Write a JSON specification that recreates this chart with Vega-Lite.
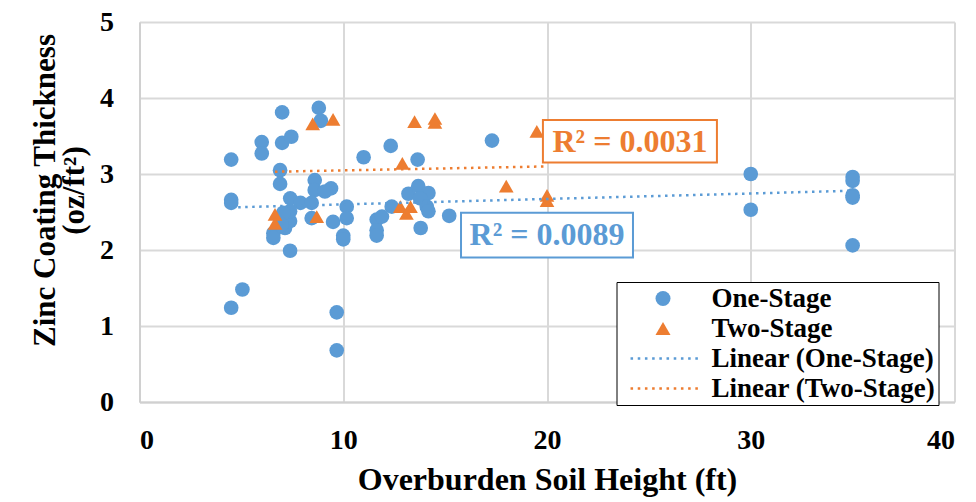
{
  "$schema": "https://vega.github.io/schema/vega-lite/v6.json",
  "width": 815,
  "height": 380,
  "autosize": {"type": "none"},
  "padding": {"left": 139.5, "top": 22, "right": 21.5, "bottom": 100},
  "background": "white",
  "config": {
    "font": "Liberation Serif",
    "view": {"stroke": null},
    "axis": {
      "grid": true,
      "gridColor": "#d9d9d9",
      "gridWidth": 2,
      "domainColor": "#d0d0d0",
      "domainWidth": 2,
      "ticks": false,
      "labelFont": "Liberation Serif",
      "labelFontWeight": "bold",
      "labelColor": "black",
      "labelFontSize": 28,
      "titleFont": "Liberation Serif",
      "titleFontWeight": "bold",
      "titleColor": "black",
      "titleFontSize": 32
    }
  },
  "datasets": {
    "pts": [
      {"x": 4.5, "y": 3.19, "series": "One-Stage"},
      {"x": 4.5, "y": 2.66, "series": "One-Stage"},
      {"x": 4.5, "y": 2.62, "series": "One-Stage"},
      {"x": 4.5, "y": 1.24, "series": "One-Stage"},
      {"x": 5.05, "y": 1.48, "series": "One-Stage"},
      {"x": 6.0, "y": 3.42, "series": "One-Stage"},
      {"x": 6.0, "y": 3.27, "series": "One-Stage"},
      {"x": 7.0, "y": 3.81, "series": "One-Stage"},
      {"x": 7.0, "y": 3.41, "series": "One-Stage"},
      {"x": 7.45, "y": 3.49, "series": "One-Stage"},
      {"x": 6.9, "y": 3.05, "series": "One-Stage"},
      {"x": 6.9, "y": 2.87, "series": "One-Stage"},
      {"x": 8.8, "y": 3.87, "series": "One-Stage"},
      {"x": 8.9, "y": 3.7, "series": "One-Stage"},
      {"x": 8.6, "y": 2.92, "series": "One-Stage"},
      {"x": 8.6, "y": 2.79, "series": "One-Stage"},
      {"x": 9.4, "y": 2.81, "series": "One-Stage"},
      {"x": 9.1, "y": 2.77, "series": "One-Stage"},
      {"x": 7.4, "y": 2.68, "series": "One-Stage"},
      {"x": 7.9, "y": 2.62, "series": "One-Stage"},
      {"x": 8.45, "y": 2.62, "series": "One-Stage"},
      {"x": 8.45, "y": 2.42, "series": "One-Stage"},
      {"x": 9.5, "y": 2.37, "series": "One-Stage"},
      {"x": 10.0, "y": 2.19, "series": "One-Stage"},
      {"x": 10.0, "y": 2.14, "series": "One-Stage"},
      {"x": 10.17, "y": 2.57, "series": "One-Stage"},
      {"x": 10.17, "y": 2.42, "series": "One-Stage"},
      {"x": 6.57, "y": 2.22, "series": "One-Stage"},
      {"x": 6.57, "y": 2.16, "series": "One-Stage"},
      {"x": 7.14, "y": 2.29, "series": "One-Stage"},
      {"x": 7.39, "y": 2.38, "series": "One-Stage"},
      {"x": 7.39, "y": 2.51, "series": "One-Stage"},
      {"x": 7.06, "y": 2.49, "series": "One-Stage"},
      {"x": 6.98, "y": 2.33, "series": "One-Stage"},
      {"x": 7.39, "y": 1.99, "series": "One-Stage"},
      {"x": 9.68, "y": 1.18, "series": "One-Stage"},
      {"x": 9.68, "y": 0.68, "series": "One-Stage"},
      {"x": 11.0, "y": 3.22, "series": "One-Stage"},
      {"x": 12.33, "y": 3.37, "series": "One-Stage"},
      {"x": 13.65, "y": 3.19, "series": "One-Stage"},
      {"x": 13.2, "y": 2.74, "series": "One-Stage"},
      {"x": 13.68, "y": 2.84, "series": "One-Stage"},
      {"x": 14.18, "y": 2.75, "series": "One-Stage"},
      {"x": 13.77, "y": 2.68, "series": "One-Stage"},
      {"x": 14.1, "y": 2.57, "series": "One-Stage"},
      {"x": 14.18, "y": 2.51, "series": "One-Stage"},
      {"x": 13.8, "y": 2.29, "series": "One-Stage"},
      {"x": 15.2, "y": 2.45, "series": "One-Stage"},
      {"x": 12.38, "y": 2.57, "series": "One-Stage"},
      {"x": 11.64, "y": 2.4, "series": "One-Stage"},
      {"x": 11.64, "y": 2.26, "series": "One-Stage"},
      {"x": 11.64, "y": 2.19, "series": "One-Stage"},
      {"x": 11.9, "y": 2.44, "series": "One-Stage"},
      {"x": 17.3, "y": 3.44, "series": "One-Stage"},
      {"x": 30.0, "y": 3.0, "series": "One-Stage"},
      {"x": 30.0, "y": 2.53, "series": "One-Stage"},
      {"x": 35.0, "y": 2.96, "series": "One-Stage"},
      {"x": 35.0, "y": 2.91, "series": "One-Stage"},
      {"x": 35.0, "y": 2.72, "series": "One-Stage"},
      {"x": 35.0, "y": 2.69, "series": "One-Stage"},
      {"x": 35.0, "y": 2.06, "series": "One-Stage"},
      {"x": 6.65, "y": 2.47, "series": "Two-Stage"},
      {"x": 6.65, "y": 2.35, "series": "Two-Stage"},
      {"x": 8.5, "y": 3.66, "series": "Two-Stage"},
      {"x": 9.5, "y": 3.72, "series": "Two-Stage"},
      {"x": 8.7, "y": 2.44, "series": "Two-Stage"},
      {"x": 12.9, "y": 3.14, "series": "Two-Stage"},
      {"x": 12.8, "y": 2.57, "series": "Two-Stage"},
      {"x": 13.1, "y": 2.48, "series": "Two-Stage"},
      {"x": 13.3, "y": 2.57, "series": "Two-Stage"},
      {"x": 13.5, "y": 3.69, "series": "Two-Stage"},
      {"x": 14.5, "y": 3.73, "series": "Two-Stage"},
      {"x": 14.5, "y": 3.68, "series": "Two-Stage"},
      {"x": 18.0, "y": 2.84, "series": "Two-Stage"},
      {"x": 19.5, "y": 3.56, "series": "Two-Stage"},
      {"x": 20.0, "y": 2.72, "series": "Two-Stage"},
      {"x": 20.0, "y": 2.65, "series": "Two-Stage"}
    ],
    "trend": [
      {"x": 4.5, "y": 2.56, "series": "Linear (One-Stage)"},
      {"x": 35.0, "y": 2.78, "series": "Linear (One-Stage)"},
      {"x": 6.65, "y": 3.03, "series": "Linear (Two-Stage)"},
      {"x": 20.0, "y": 3.1, "series": "Linear (Two-Stage)"}
    ],
    "boxes": [
      {"x": 19.8, "x2": 28.34, "y": 3.15, "y2": 3.71, "series": "Linear (Two-Stage)"},
      {"x": 15.78, "x2": 24.22, "y": 1.9, "y2": 2.49, "series": "Linear (One-Stage)"}
    ],
    "labels": [
      {"x": 24.07, "y": 3.42, "text": "R² = 0.0031", "series": "Linear (Two-Stage)"},
      {"x": 20.0, "y": 2.2, "text": "R² = 0.0089", "series": "Linear (One-Stage)"}
    ]
  },
  "layer": [
    {
      "data": {"name": "pts"},
      "mark": {"type": "point", "filled": true, "opacity": 1, "size": 215, "strokeWidth": 0},
      "encoding": {
        "x": {
          "field": "x", "type": "quantitative",
          "scale": {"domain": [0, 40], "nice": false},
          "axis": {"values": [0, 10, 20, 30, 40], "format": "d", "title": "Overburden Soil Height (ft)", "labelPadding": 24, "titlePadding": 10}
        },
        "y": {
          "field": "y", "type": "quantitative",
          "scale": {"domain": [0, 5], "nice": false},
          "axis": {"values": [0, 1, 2, 3, 4, 5], "format": "d", "title": ["Zinc Coating Thickness", "(oz/ft²)"], "titleFontSize": 31, "labelPadding": 26, "titlePadding": 9, "titleLineHeight": 29, "titleY": 168}
        },
        "color": {
          "field": "series", "type": "nominal",
          "scale": {
            "domain": ["One-Stage", "Two-Stage", "Linear (One-Stage)", "Linear (Two-Stage)"],
            "range": ["#5B9BD5", "#ED7D31", "#5B9BD5", "#ED7D31"]
          },
          "legend": {
            "title": null,
            "orient": "none",
            "legendX": 477,
            "legendY": 260,
            "padding": 3,
            "rowPadding": 2,
            "strokeColor": "black",
            "fillColor": "white",
            "symbolSize": 225,
            "symbolStrokeWidth": 0,
            "symbolOffset": 30,
            "labelOffset": 35,
            "labelLimit": 500,
            "labelFontSize": 27,
            "labelFontWeight": "bold",
            "labelColor": "black",
            "labelFont": "Liberation Serif",
            "labelExpr": "datum.label + '\u00a0\u00a0\u00a0\u00a0'",
            "encode": {"legend": {"update": {"strokeWidth": {"value": 2}}}}
          }
        },
        "shape": {
          "field": "series", "type": "nominal",
          "scale": {
            "domain": ["One-Stage", "Two-Stage", "Linear (One-Stage)", "Linear (Two-Stage)"],
            "range": [
              "circle",
              "triangle-up",
              "M-4.33,-0.17h0.34v0.34h-0.34zM-3.37,-0.17h0.34v0.34h-0.34zM-2.41,-0.17h0.34v0.34h-0.34zM-1.45,-0.17h0.34v0.34h-0.34zM-0.49,-0.17h0.34v0.34h-0.34zM0.47,-0.17h0.34v0.34h-0.34zM1.43,-0.17h0.34v0.34h-0.34zM2.39,-0.17h0.34v0.34h-0.34zM3.35,-0.17h0.34v0.34h-0.34zM4.31,-0.17h0.34v0.34h-0.34z",
              "M-4.33,-0.17h0.34v0.34h-0.34zM-3.37,-0.17h0.34v0.34h-0.34zM-2.41,-0.17h0.34v0.34h-0.34zM-1.45,-0.17h0.34v0.34h-0.34zM-0.49,-0.17h0.34v0.34h-0.34zM0.47,-0.17h0.34v0.34h-0.34zM1.43,-0.17h0.34v0.34h-0.34zM2.39,-0.17h0.34v0.34h-0.34zM3.35,-0.17h0.34v0.34h-0.34zM4.31,-0.17h0.34v0.34h-0.34z"
            ]
          }
        }
      }
    },
    {
      "data": {"name": "trend"},
      "mark": {"type": "line", "strokeWidth": 2.5, "strokeDash": [2.5, 4.5]},
      "encoding": {
        "x": {"field": "x", "type": "quantitative"},
        "y": {"field": "y", "type": "quantitative"},
        "color": {"field": "series", "type": "nominal", "legend": null}
      }
    },
    {
      "data": {"name": "boxes"},
      "mark": {"type": "rect", "fill": "white", "strokeWidth": 2},
      "encoding": {
        "x": {"field": "x", "type": "quantitative"},
        "x2": {"field": "x2"},
        "y": {"field": "y", "type": "quantitative"},
        "y2": {"field": "y2"},
        "stroke": {
          "field": "series", "type": "nominal",
          "scale": {"domain": ["Linear (One-Stage)", "Linear (Two-Stage)"], "range": ["#5B9BD5", "#ED7D31"]},
          "legend": null
        }
      }
    },
    {
      "data": {"name": "labels"},
      "mark": {"type": "text", "fontSize": 32, "fontWeight": "bold", "font": "Liberation Serif", "align": "center", "baseline": "middle"},
      "encoding": {
        "x": {"field": "x", "type": "quantitative"},
        "y": {"field": "y", "type": "quantitative"},
        "text": {"field": "text"},
        "color": {"field": "series", "type": "nominal", "legend": null}
      }
    }
  ]
}
